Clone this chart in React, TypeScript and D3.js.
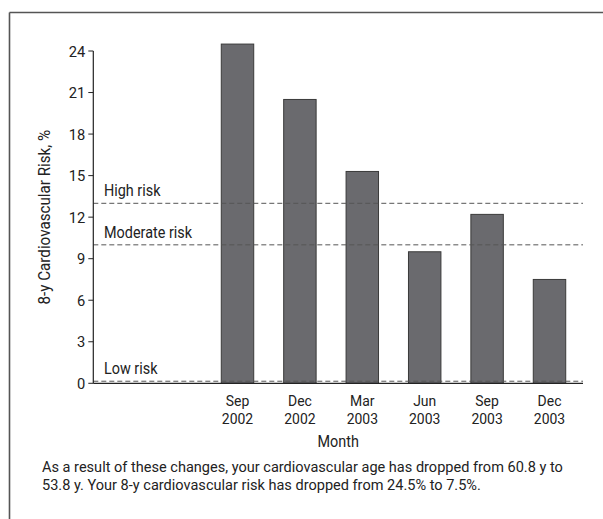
import React from "react";
import * as d3 from "d3";

const months = ["Sep 2002", "Dec 2002", "Mar 2003", "Jun 2003", "Sep 2003", "Dec 2003"];
const riskValues = [24.5, 20.5, 15.3, 9.5, 12.2, 7.5];
const yTicks = [0, 3, 6, 9, 12, 15, 18, 21, 24];
const thresholdLabels = ["High risk", "Moderate risk", "Low risk"];
const thresholdValues = [13, 10, 0.15];
const footnoteLines = [
  "As a result of these changes, your cardiovascular age has dropped from 60.8 y to",
  "53.8 y. Your 8-y cardiovascular risk has dropped from 24.5% to 7.5%.",
];

const W = 603;
const H = 519;
const FONT = "Roboto, 'Liberation Sans', Arial, sans-serif";

type NT = {
  x: number;
  y: number;
  size: number;
  sx?: number;
  anchor?: "start" | "middle" | "end";
  dy?: string;
  rotate?: number;
  children: React.ReactNode;
};

function NarrowText({ x, y, size, sx = 0.9, anchor = "start", dy, rotate = 0, children }: NT) {
  return (
    <g transform={`translate(${x},${y}) rotate(${rotate}) scale(${sx},1)`}>
      <text x={0} y={0} dy={dy} textAnchor={anchor} fontSize={size} fill="#222">
        {children}
      </text>
    </g>
  );
}

export default function App() {
  const axisX = 93.3;
  const axisEnd = 583;
  const y = d3.scaleLinear().domain([0, 24]).range([383.3, 51]);
  const x = d3
    .scaleBand<string>()
    .domain(months)
    .range([206.3, 580.7])
    .paddingInner(0.48)
    .paddingOuter(0.24);

  return (
    <svg
      width={W}
      height={H}
      style={{ position: "absolute", left: 0, top: 0, background: "#fff" }}
      fontFamily={FONT}
    >
      {/* frame */}
      <line x1={9.5} y1={12.5} x2={W} y2={12.5} stroke="#555" strokeWidth={1.6} />
      <line x1={9.5} y1={12.5} x2={9.5} y2={H} stroke="#555" strokeWidth={1.6} />

      {/* bars */}
      {months.map((m, i) => (
        <rect
          key={m}
          x={x(m)}
          y={y(riskValues[i])}
          width={x.bandwidth()}
          height={y(0) - y(riskValues[i])}
          fill="#6a6a6e"
          stroke="#3a3a3a"
          strokeWidth={1}
        />
      ))}

      {/* thresholds */}
      {thresholdValues.map((v, i) => (
        <g key={thresholdLabels[i]}>
          <line
            x1={axisX}
            x2={axisEnd}
            y1={y(v)}
            y2={y(v)}
            stroke="#555"
            strokeWidth={1}
            strokeDasharray="5,3"
          />
          <NarrowText x={104} y={y(v) - 7} size={16}>
            {thresholdLabels[i]}
          </NarrowText>
        </g>
      ))}

      {/* axes */}
      <line x1={axisX} x2={axisX} y1={y(24)} y2={y(0)} stroke="#222" strokeWidth={1.2} />
      <line x1={axisX} x2={axisEnd} y1={y(0)} y2={y(0)} stroke="#222" strokeWidth={1.2} />
      {yTicks.map((t) => (
        <g key={t}>
          <line x1={axisX - 5} x2={axisX} y1={y(t)} y2={y(t)} stroke="#222" strokeWidth={1} />
          <NarrowText x={axisX - 8} y={y(t)} dy="0.36em" anchor="end" size={15.5} sx={0.95}>
            {t}
          </NarrowText>
        </g>
      ))}

      {/* category labels */}
      {months.map((m) => {
        const [mon, yr] = m.split(" ");
        const cx = (x(m) as number) + x.bandwidth() / 2;
        return (
          <g key={m}>
            <NarrowText x={cx} y={406} anchor="middle" size={15.5}>
              {mon}
            </NarrowText>
            <NarrowText x={cx} y={424} anchor="middle" size={15.5}>
              {yr}
            </NarrowText>
          </g>
        );
      })}

      <NarrowText x={(axisX + axisEnd) / 2} y={447} anchor="middle" size={16}>
        Month
      </NarrowText>

      <NarrowText x={50} y={(y(0) + y(24)) / 2} anchor="middle" size={16} sx={0.95} rotate={-90}>
        8-y Cardiovascular Risk, %
      </NarrowText>

      {footnoteLines.map((l, i) => (
        <NarrowText key={i} x={42} y={472 + i * 17.5} size={15} sx={0.97}>
          {l}
        </NarrowText>
      ))}
    </svg>
  );
}
